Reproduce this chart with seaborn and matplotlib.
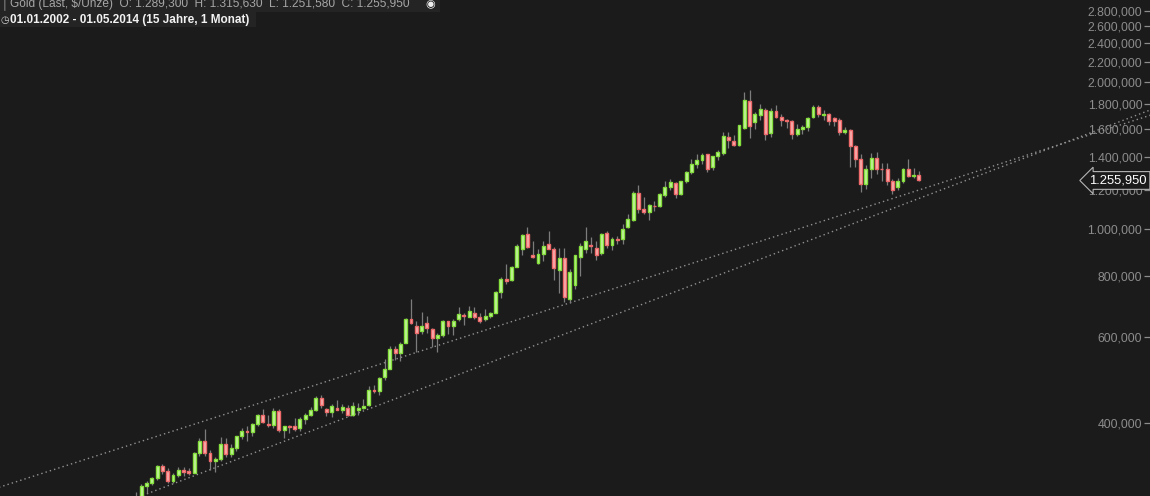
import matplotlib
matplotlib.use("Agg")
import matplotlib.pyplot as plt
import seaborn as sns
import numpy as np
import pandas as pd
from matplotlib.ticker import FixedLocator, NullLocator
from matplotlib.patches import Rectangle

# ---------------- data (monthly gold candles, Jan 2002 - May 2014) ----------------
months = pd.date_range("2002-01-01", "2014-05-01", freq="MS")

opens = [
    278.7, 282.3, 296.8, 301.4, 308.2, 326.6, 318.5, 304.7, 312.8, 320.0, 318.5, 316.5,
    347.2, 367.5, 347.5, 334.9, 336.8, 361.4, 346.0, 354.8, 375.6, 384.5, 383.0, 397.8,
    416.1, 398.5, 396.0, 424.0, 387.5, 393.5, 394.5, 390.0, 407.3, 415.7, 425.5, 450.0,
    427.5, 421.0, 430.0, 424.5, 428.5, 414.5, 424.5, 428.5, 436.0, 468.0, 464.5, 497.0,
    516.0, 566.0, 556.0, 584.0, 654.0, 632.0, 617.0, 640.0, 622.0, 597.0, 606.0, 646.0,
    632.0, 652.0, 664.5, 660.0, 672.0, 660.0, 653.0, 663.0, 672.0, 743.0, 789.0, 787.0,
    836.0, 910.0, 975.0, 884.0, 852.0, 886.0, 932.0, 908.0, 825.0, 872.0, 718.0, 768.0,
    875.0, 910.0, 926.0, 915.0, 892.0, 979.0, 926.0, 954.0, 952.0, 1008.0, 1040.0, 1182.0,
    1100.0, 1081.0, 1114.0, 1111.0, 1172.0, 1220.0, 1240.0, 1177.0, 1250.0, 1309.0, 1359.0, 1386.0,
    1420.0, 1340.0, 1407.0, 1430.0, 1541.0, 1515.0, 1487.0, 1607.0, 1825.0, 1652.0, 1714.0, 1755.0,
    1568.0, 1740.0, 1697.0, 1669.0, 1664.0, 1561.0, 1598.0, 1614.0, 1692.0, 1776.0, 1712.0, 1720.0,
    1685.0, 1668.0, 1578.0, 1597.0, 1476.0, 1393.0, 1234.0, 1325.0, 1396.0, 1327.0, 1323.0, 1250.0,
    1220.0, 1250.0, 1326.0, 1284.0, 1289.3,
]
highs = [
    289.0, 300.0, 304.0, 310.5, 327.5, 330.0, 323.0, 315.5, 325.0, 324.5, 323.0, 349.0,
    372.0, 389.0, 352.0, 341.0, 374.0, 372.0, 362.0, 376.0, 391.0, 395.0, 399.0, 418.0,
    427.0, 416.0, 429.0, 428.0, 395.0, 397.0, 409.0, 411.0, 419.0, 431.0, 455.0, 457.0,
    430.0, 437.0, 445.0, 437.0, 436.0, 442.0, 439.0, 448.0, 476.0, 479.0, 497.0, 540.0,
    575.0, 574.0, 587.0, 655.0, 718.0, 648.0, 675.0, 664.0, 627.0, 612.0, 649.0, 648.0,
    652.0, 690.0, 672.0, 693.0, 691.0, 672.0, 684.0, 676.0, 745.0, 796.0, 845.0, 840.0,
    932.0, 976.0, 1008.0, 945.0, 907.0, 944.0, 988.0, 917.0, 913.0, 913.0, 827.0, 885.0,
    936.0, 1007.0, 962.0, 944.0, 980.0, 990.0, 960.0, 966.0, 1025.0, 1070.0, 1195.0, 1227.0,
    1162.0, 1125.0, 1142.0, 1185.0, 1250.0, 1265.0, 1246.0, 1250.0, 1311.0, 1388.0, 1424.0, 1432.0,
    1424.0, 1412.0, 1448.0, 1576.0, 1577.0, 1559.0, 1632.0, 1906.0, 1921.0, 1738.0, 1804.0, 1764.0,
    1764.0, 1791.0, 1722.0, 1677.0, 1669.0, 1640.0, 1631.0, 1693.0, 1789.0, 1796.0, 1755.0, 1724.0,
    1694.0, 1685.0, 1617.0, 1600.0, 1488.0, 1424.0, 1348.0, 1433.0, 1434.0, 1362.0, 1362.0, 1262.0,
    1271.0, 1332.0, 1392.0, 1331.0, 1315.63,
]
lows = [
    276.8, 282.0, 287.0, 298.0, 306.0, 315.0, 301.0, 301.0, 310.0, 312.0, 313.0, 316.0,
    342.0, 343.0, 320.0, 318.0, 334.0, 341.0, 340.0, 351.0, 371.0, 367.0, 376.0, 394.0,
    399.0, 393.0, 390.0, 384.0, 372.0, 381.0, 385.0, 386.0, 398.0, 413.0, 423.0, 430.0,
    414.0, 411.0, 425.0, 420.0, 414.0, 414.0, 416.0, 427.0, 433.0, 460.0, 457.0, 491.0,
    516.0, 538.0, 535.0, 582.0, 638.0, 560.0, 610.0, 612.0, 573.0, 560.0, 600.0, 609.0,
    606.0, 647.0, 635.0, 658.0, 652.0, 642.0, 648.0, 655.0, 671.0, 722.0, 772.0, 781.0,
    835.0, 884.0, 913.0, 873.0, 848.0, 858.0, 908.0, 786.0, 740.0, 709.0, 705.0, 752.0,
    802.0, 890.0, 893.0, 862.0, 884.0, 915.0, 905.0, 932.0, 932.0, 1003.0, 1035.0, 1075.0,
    1073.0, 1044.0, 1088.0, 1110.0, 1160.0, 1203.0, 1155.0, 1175.0, 1242.0, 1293.0, 1330.0, 1360.0,
    1309.0, 1320.0, 1381.0, 1417.0, 1462.0, 1478.0, 1478.0, 1604.0, 1535.0, 1602.0, 1667.0, 1523.0,
    1540.0, 1689.0, 1627.0, 1612.0, 1527.0, 1552.0, 1564.0, 1583.0, 1687.0, 1692.0, 1672.0, 1635.0,
    1626.0, 1555.0, 1563.0, 1340.0, 1338.0, 1192.0, 1208.0, 1271.0, 1297.0, 1251.0, 1227.0, 1181.0,
    1201.0, 1239.0, 1277.0, 1268.0, 1251.58,
]
closes = [
    282.3, 296.8, 301.4, 308.2, 326.6, 318.5, 304.7, 312.8, 321.0, 317.0, 316.5, 347.2,
    367.5, 347.5, 334.9, 336.8, 361.4, 346.0, 354.8, 375.6, 384.5, 383.0, 397.8, 416.1,
    402.2, 396.0, 424.0, 387.5, 393.5, 392.3, 388.0, 407.3, 415.7, 425.5, 450.0, 435.0,
    421.0, 433.5, 424.5, 432.0, 414.5, 433.5, 428.5, 433.0, 468.0, 464.5, 495.7, 516.0,
    566.0, 556.0, 581.0, 654.0, 642.0, 612.0, 633.0, 626.0, 597.0, 606.0, 646.0, 633.0,
    648.0, 670.0, 662.5, 678.0, 660.0, 648.0, 663.0, 672.0, 743.0, 790.0, 783.0, 836.0,
    923.0, 972.0, 916.0, 877.0, 886.0, 923.0, 910.0, 830.0, 872.0, 724.0, 816.0, 884.0,
    921.0, 945.0, 922.0, 884.0, 975.0, 926.0, 954.0, 950.0, 1000.0, 1045.0, 1182.0, 1096.0,
    1081.0, 1118.0, 1112.0, 1177.0, 1217.0, 1246.0, 1177.0, 1250.0, 1309.0, 1359.0, 1386.0, 1418.0,
    1325.0, 1413.0, 1436.0, 1550.0, 1517.0, 1487.0, 1629.0, 1832.0, 1624.0, 1715.0, 1763.0, 1565.0,
    1740.0, 1697.0, 1669.0, 1664.0, 1561.0, 1604.0, 1614.0, 1690.0, 1776.0, 1720.0, 1717.0, 1660.0,
    1664.0, 1578.0, 1597.0, 1476.0, 1393.0, 1234.0, 1325.0, 1396.0, 1327.0, 1323.0, 1250.0, 1202.0,
    1250.0, 1326.0, 1284.0, 1289.0, 1255.95,
]

# dotted support lines (anchor month index, price)
trend_x = [-26, 192]
upper_trend = [295.0, 1712.0]
lower_trend = [219.0, 1756.0]

tick_values = [400, 600, 800, 1000, 1200, 1400, 1600, 1800, 2000, 2200, 2400, 2600, 2800]
tick_labels = ["400,000", "600,000", "800,000", "1.000,000", "1.200,000", "1.400,000",
               "1.600,000", "1.800,000", "2.000,000", "2.200,000", "2.400,000",
               "2.600,000", "2.800,000"]

header_1 = "Gold (Last, $/Unze)  O: 1.289,300  H: 1.315,630  L: 1.251,580  C: 1.255,950"
header_2 = "01.01.2002 - 01.05.2014 (15 Jahre, 1 Monat)"
last_label = "1.255,950"
last_price = 1255.95

# ---------------- style ----------------
BG = "#1c1b1b"
BOX = "#252424"
sns.set_theme(style="dark", rc={"axes.facecolor": BG, "figure.facecolor": BG,
                                "axes.grid": False})
plt.rcParams["font.family"] = ["Liberation Sans", "DejaVu Sans"]

W, H = 1150, 496
fig = plt.figure(figsize=(W / 100, H / 100), dpi=100)
ax = fig.add_axes([0, 0, 1, 1])
ax.set_facecolor(BG)

df = pd.DataFrame({"month": months, "o": opens, "h": highs, "l": lows, "c": closes})
df["idx"] = np.arange(len(df))
df["up"] = df["c"] >= df["o"]

# trend lines through seaborn
tdf = pd.DataFrame({"idx": trend_x + trend_x,
                    "price": upper_trend + lower_trend,
                    "line": ["upper", "upper", "lower", "lower"]})
sns.lineplot(data=tdf, x="idx", y="price", hue="line", palette=["#929292", "#929292"],
             estimator=None, legend=False, ax=ax, linewidth=1.0,
             linestyle=(0, (1, 2.2)), zorder=1)

# wicks
ax.vlines(df["idx"], df["l"], df["h"], color="#7c7c7c", linewidth=0.9, zorder=2)

# bodies
GREEN_FILL, GREEN_EDGE = "#c6f5a2", "#84de3c"
RED_FILL, RED_EDGE = "#f8b2b2", "#ee6a6a"
bottoms = np.minimum(df["o"], df["c"])
heights = np.abs(df["c"] - df["o"])
fills = np.where(df["up"], GREEN_FILL, RED_FILL)
edges = np.where(df["up"], GREEN_EDGE, RED_EDGE)
ax.bar(df["idx"], heights, bottom=bottoms, width=0.55, color=fills,
       edgecolor=edges, linewidth=1.0, zorder=3)

ax.set_yscale("log")
ax.set_ylim(283.4, 2943)
ax.set_xlim(-25.7, 191.7)
ax.set_xticks([])
ax.set_xlabel("")
ax.set_ylabel("")
for s in ax.spines.values():
    s.set_visible(False)

ax.yaxis.tick_right()
ax.yaxis.set_major_locator(FixedLocator(tick_values))
ax.yaxis.set_minor_locator(NullLocator())
ax.set_yticklabels(tick_labels)
ax.tick_params(axis="y", which="major", direction="in", length=4, width=0.9,
               color="#8c8c8c", labelcolor="#8c8c8c", labelsize=8.8, pad=-5.5)
for t in ax.get_yticklabels():
    t.set_horizontalalignment("right")

# last price marker
ax.annotate(last_label, xy=(1147 / W, last_price), xycoords=("axes fraction", "data"),
            ha="right", va="center", color="white", fontsize=9.4, zorder=6,
            bbox=dict(boxstyle="larrow,pad=0.22", fc=BG, ec="#b5b5b5", lw=0.8))

# header boxes and texts
def fx(px):
    return px / W

def fy(py):
    return 1 - py / H

fig.patches.append(Rectangle((0, fy(12)), fx(440), 12 / H, transform=fig.transFigure,
                             fc=BOX, ec="none", zorder=0))
fig.patches.append(Rectangle((0, fy(27)), fx(256), 15 / H, transform=fig.transFigure,
                             fc=BOX, ec="none", zorder=0))
fig.text(fx(10), fy(4), header_1, color="#a6a6a6", fontsize=8.6, ha="left", va="center")
fig.text(fx(1), fy(4), "\u2502", color="#a6a6a6", fontsize=7, ha="left", va="center",
         family=["DejaVu Sans"])
fig.text(fx(430), fy(4.5), "\u25C9", color="#f0f0f0", fontsize=8, ha="center", va="center",
         family=["DejaVu Sans"])
fig.text(fx(0.5), fy(19.5), "\u25F7", color="#d0d0d0", fontsize=7, ha="left", va="center",
         family=["DejaVu Sans"])
fig.text(fx(10), fy(19.5), header_2, color="#f2f2f2", fontsize=8.5, fontweight="bold",
         ha="left", va="center")

fig.savefig("out.png", dpi=100, facecolor=BG)
